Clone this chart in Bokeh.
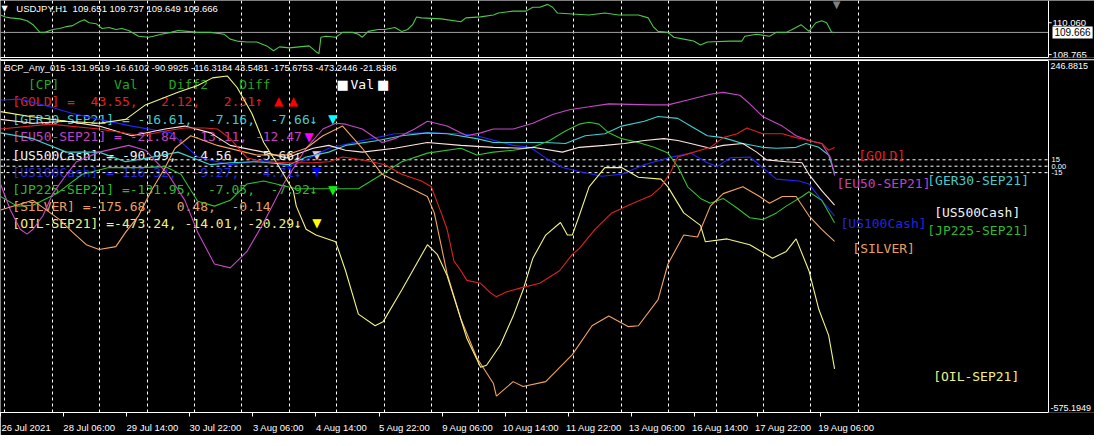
from bokeh.plotting import figure
from bokeh.models import Range1d, LinearAxis, FixedTicker, Grid, Span, Label
from bokeh.layouts import column
from bokeh.embed import file_html
from bokeh.resources import INLINE

# ---------------- data ----------------
# x values are H1 bar indices counted from the first visible bar
usdjpy_bar = [0, 2.5, 5, 10, 13.5, 16.5, 20, 22.5, 26.5, 30, 33.5, 36.5, 40, 42.5, 45, 48.5, 51.5, 55, 58.5, 61.5,
              65, 70, 75, 77.5, 81.5, 86.5, 90, 95, 100, 106.5, 113.5, 116.5, 120, 125, 130, 135, 138.5, 141.5, 146.5,
              151.5, 156.5, 160, 161.5, 162.5, 165, 170, 173.5, 178.5, 181.5, 183.5, 186.5, 191.5, 195, 200, 203.5,
              206.5, 209, 211, 213.5, 223.5, 233.5, 236, 243.5, 250, 252.5, 260, 266.5, 270, 273.5, 277.5, 280, 282.5,
              290, 298.5, 306.5, 313.5, 323.5, 328.5, 331, 333.5, 338.5, 341.5, 346.5, 351.5, 355, 358.5, 370, 376,
              377.5, 383.5, 390, 393.5, 398.5, 401.5, 406, 410, 413.5, 416.5, 419, 421.5, 422.5]
usdjpy_px = [110.374, 110.296, 110.256, 110.217, 110.139, 109.981, 109.668, 109.668, 109.785, 109.825, 109.903,
             109.942, 110.099, 110.178, 110.060, 110.021, 109.825, 109.864, 109.785, 109.825, 109.746, 109.511,
             109.471, 109.511, 109.589, 109.668, 109.746, 109.707, 109.668, 109.668, 109.589, 109.393, 109.314,
             109.275, 109.275, 109.118, 108.922, 109.079, 109.040, 109.079, 109.118, 108.883, 108.804, 109.471,
             109.511, 109.471, 109.668, 109.668, 109.589, 109.471, 109.707, 109.785, 109.785, 109.864, 109.707,
             109.785, 109.981, 110.296, 110.256, 110.217, 110.099, 110.256, 110.296, 110.374, 110.453, 110.531,
             110.531, 110.688, 110.688, 110.806, 110.688, 110.453, 110.413, 110.374, 110.453, 110.374, 110.374,
             110.256, 109.903, 109.707, 109.668, 109.471, 109.393, 109.314, 109.157, 109.275, 109.314, 109.314,
             109.511, 109.589, 109.511, 109.668, 109.668, 109.785, 109.981, 109.707, 110.060, 110.139, 110.060,
             109.668, 109.666]

gold_bar = [0, 25, 50, 71.5, 83.5, 93.5, 103.5, 110, 116.5, 125, 133.5, 146.5, 158.5, 166.5, 173.5, 183.5, 195,
            203.5, 213.5, 218.5, 223.5, 226.5, 230, 233.5, 236.5, 243.5, 248.5, 251.5, 256.5, 263.5, 273.5, 283.5,
            290, 293.5, 301.5, 310, 318.5, 330, 335, 340, 343.5, 350, 360, 366.5, 373.5, 378.5, 386.5, 396.5, 403.5,
            410, 416.5, 420, 423]
gold_val = [86.9, 98.2, 86.9, 71.2, 82.4, 89.2, 89.2, 86.9, 64.4, 19.4, 10.4, 8.1, 8.1, 10.4, 21.6, 14.9, 3.6,
            -18.9, -34.7, -48.2, -109.0, -147.3, -221.6, -244.1, -266.6, -273.4, -295.9, -304.9, -293.7, -284.7,
            -273.4, -244.1, -205.8, -192.3, -147.3, -109.0, -91.0, -68.5, -48.2, -12.2, 21.6, 30.6, 44.1, 66.7, 75.7,
            89.2, 75.7, 75.7, 66.7, 59.9, 53.1, 37.4, 43.5481]

ger30_bar = [0, 16.5, 33.5, 50, 63.5, 75, 90, 106.5, 116.5, 130, 146.5, 155, 166.5, 175, 191.5, 203.5, 216.5, 226.5,
             241.5, 250, 265, 276.5, 286.5, 296.5, 306.5, 315, 326.5, 333.5, 343.5, 350, 358.5, 366.5, 376.5, 386.5,
             393.5, 403.5, 408.5, 415, 420, 423]
ger30_val = [77.9, 64.4, 32.9, 32.9, 10.4, 19.4, 32.9, 3.6, 8.1, 10.4, 3.6, 21.6, 32.9, 48.6, 59.9, 71.2, 77.9, 75.7,
             64.4, 55.4, 55.4, 55.4, 53.1, 71.2, 75.7, 93.7, 104.9, 116.2, 111.7, 93.7, 71.2, 66.7, 53.1, 44.1, 41.9,
             44.1, 53.1, 44.1, 26.1, -16.6102]

eu50_bar = [0, 5, 10, 13.5, 16.5, 21.5, 26.5, 33.5, 38.5, 50, 65, 73.5, 85, 93.5, 100, 108.5, 116.5, 125, 133.5,
            143.5, 155, 163.5, 170, 175, 183.5, 193.5, 200, 210, 216.5, 226.5, 236.5, 243.5, 250, 260, 270, 280,
            288.5, 298.5, 308.5, 330, 338.5, 348.5, 360, 366.5, 375, 380, 386.5, 396.5, 403.5, 410, 416.5, 421, 423]
eu50_val = [-41.4, -102.2, -147.3, -158.5, -147.3, -115.8, -64.0, -18.9, 10.4, 32.9, 48.6, 37.4, -18.9, -79.7,
            -154.0, -228.4, -237.4, -199.1, -131.5, -41.4, 41.9, 86.9, 100.4, 98.2, 86.9, 55.4, 64.4, 86.9, 104.9,
            93.7, 71.2, 77.9, 86.9, 86.9, 100.4, 120.7, 132.0, 138.7, 145.5, 143.2, 143.2, 154.5, 168.0, 172.5, 165.7,
            145.5, 116.2, 93.7, 71.2, 59.9, 53.1, 19.4, -21.8386]

us500_bar = [0, 16.5, 33.5, 50, 66.5, 83.5, 93.5, 106.5, 116.5, 133.5, 145, 158.5, 166.5, 175, 183.5, 200, 216.5,
             233.5, 250, 265, 270, 285, 293.5, 306.5, 316.5, 326.5, 336.5, 343.5, 350, 360, 366.5, 376.5, 383.5,
             388.5, 398.5, 406.5, 410, 416.5, 423]
us500_val = [109.4, 100.4, 104.9, 93.7, 71.2, 86.9, 93.7, 77.9, 48.6, 32.9, 19.4, 41.9, 48.6, 37.4, 32.9, 41.9,
             55.4, 48.6, 44.1, 41.9, 44.1, 32.9, 44.1, 48.6, 53.1, 59.9, 64.4, 59.9, 53.1, 41.9, 48.6, 53.1, 32.9,
             14.9, 10.4, 8.1, -18.9, -57.2, -90.9925]

us100_bar = [0, 10, 25, 36.5, 50, 66.5, 86.5, 93.5, 100, 116.5, 133.5, 146.5, 155, 166.5, 183.5, 200, 216.5, 233.5,
             241.5, 260, 268.5, 276.5, 285, 293.5, 305, 315, 326.5, 338.5, 350, 358.5, 363.5, 370, 380, 386.5, 393.5,
             405, 410, 416.5, 423]
us100_val = [154.5, 156.7, 138.7, 123.0, 109.4, 93.7, 77.9, 48.6, 21.6, 3.6, 14.9, -0.9, 14.9, 41.9, 59.9, 75.7,
             77.9, 75.7, 71.2, 48.6, 44.1, 19.4, -3.2, -12.2, -23.4, -18.9, 3.6, 19.4, 30.6, 8.1, -0.9, 19.4, 21.6,
             -3.2, -30.2, -34.7, -41.4, -79.7, -116.3184]

jp225_bar = [0, 8.5, 16.5, 28.5, 41.5, 55, 71.5, 83.5, 91.5, 100, 108.5, 116.5, 125, 133.5, 150, 166.5, 181.5,
             193.5, 203.5, 216.5, 233.5, 241.5, 250, 260, 270, 278.5, 286.5, 293.5, 298.5, 303.5, 308.5, 315, 323.5,
             331.5, 338.5, 343.5, 348.5, 355, 360, 366.5, 373.5, 380, 386.5, 393.5, 398.5, 406.5, 410, 416.5, 423]
jp225_val = [-70.7, -93.2, -91.0, -64.0, -18.9, -3.2, -3.2, -0.9, -18.9, -82.0, -93.2, -79.7, -41.4, -34.7, -52.7,
             -52.7, -52.7, -18.9, 10.4, 30.6, 41.9, 26.1, 32.9, 37.4, 44.1, 59.9, 82.4, 98.2, 102.7, 98.2, 77.9, 64.4,
             55.4, 44.1, 30.6, -0.9, -48.2, -75.2, -86.5, -75.2, -97.7, -120.3, -124.8, -109.0, -93.2, -70.7, -59.5,
             -79.7, -131.9519]

silver_bar = [0, 16.5, 30, 36.5, 43.5, 50, 58.5, 63.5, 70, 76.5, 83.5, 88.5, 96.5, 110, 130, 145, 155, 163.5,
              173.5, 183.5, 193.5, 206.5, 216.5, 220, 226.5, 233.5, 241.5, 250, 251.5, 260, 265, 276.5, 290, 300,
              308.5, 318.5, 323.5, 333.5, 338.5, 346.5, 353.5, 360, 366.5, 376.5, 385, 390, 396.5, 403.5, 410, 416.5,
              423]
silver_val = [-102.2, -79.7, -124.8, -154.0, -183.3, -194.6, -187.8, -154.0, -115.8, -57.2, -3.2, 41.9, 71.2, 48.6,
              26.1, 26.1, 41.9, 71.2, 93.7, 41.9, -18.9, -48.2, -70.7, -109.0, -250.9, -356.7, -446.8, -507.6,
              -536.9, -503.1, -514.4, -503.1, -440.0, -372.5, -350.0, -374.7, -372.5, -311.7, -228.4, -160.8, -165.3,
              -93.2, -64.0, -48.2, -70.7, -86.5, -70.7, -70.7, -115.8, -147.3, -175.6753]

oil_bar = [0, 15, 33.5, 50, 63.5, 73.5, 90, 100, 107.5, 115, 120, 127.5, 133.5, 141.5, 148.5, 150, 155, 160, 170,
           175, 181.5, 190, 194, 203.5, 216.5, 221.5, 226.5, 236.5, 243.5, 246.5, 253.5, 260, 265, 270, 276.5, 284,
           287.5, 290, 293.5, 298.5, 306.5, 315, 323.5, 335, 338.5, 346.5, 355, 357.5, 368.5, 380, 391.5, 398.5,
           403.5, 410, 415, 420, 423]
oil_val = [127.5, 116.2, 104.9, 100.4, 109.4, 143.2, 172.5, 188.3, 206.3, 210.8, 183.8, 123.0, 55.4, -3.2, -57.2,
           -93.2, -147.3, -160.8, -176.6, -244.1, -345.5, -372.5, -363.5, -289.2, -183.3, -205.8, -255.4, -401.8,
           -469.3, -464.8, -417.5, -350.0, -289.2, -214.8, -160.8, -131.5, -160.8, -160.8, -115.8, -48.2, -3.2, -3.2,
           -25.7, -30.2, -48.2, -109.0, -138.3, -176.6, -169.8, -183.3, -214.8, -199.1, -169.8, -244.1, -334.2,
           -395.0, -473.2446]

time_tick_bars = [0, 32, 64, 96, 128, 160, 192, 224, 256, 288, 320, 352, 384, 416]
time_tick_labels = ["26 Jul 2021", "28 Jul 06:00", "29 Jul 14:00", "30 Jul 22:00", "3 Aug 06:00", "4 Aug 14:00",
                    "5 Aug 22:00", "9 Aug 06:00", "10 Aug 14:00", "11 Aug 22:00", "13 Aug 06:00", "16 Aug 14:00",
                    "17 Aug 22:00", "19 Aug 06:00"]

ind_min, ind_max = -575.1949, 246.8815
levels = [15, 0, -15]
level_labels = ["15", "0.00", "-15"]
price_ticks = [110.060, 108.765]
price_last = 109.666
price_lo, price_hi = 108.647, 110.963

names = ["GOLD", "GER30-SEP21", "EU50-SEP21", "US500Cash", "US100Cash", "JP225-SEP21", "SILVER", "OIL-SEP21"]
cp_val = [43.55, -16.61, -21.84, -90.99, -116.32, -131.95, -175.68, -473.24]
cp_diff2 = [2.12, -7.16, -13.11, -4.56, -9.27, -7.05, 0.48, -14.01]
cp_diff = [2.31, -7.66, -12.47, -5.66, -4.71, -7.92, -0.14, -20.29]
cp_arrow = ["↑", "↓", "", "↓", "↓", "↓", "", "↓"]
header_vals = [-131.9519, -16.6102, -90.9925, -116.3184, 43.5481, -175.6753, -473.2446, -21.8386]

# ---------------- styles / layout ----------------
TOTAL_W = 1094
CHART_W = 1048                      # px of the chart area left of the price scale
BAR_END = 531.5                     # bar position of the chart's right border
X_END = BAR_END * TOTAL_W / CHART_W
H1, H2 = 57, 352
SX = CHART_W / 1063.0
SY1 = H1 / 59.0
SY2 = H2 / 365.0
MONO = "DejaVu Sans Mono"
SANS = "Liberation Sans"
NB = "\u00a0"

def sx(v): return v * SX
def sy1(v): return (59 - v) * SY1
def sy2(v): return (427 - v) * SY2

line_cols = {"GOLD": "#e02020", "GER30-SEP21": "#40d0d0", "EU50-SEP21": "#c848c8", "US500Cash": "#ffe4e1",
             "US100Cash": "#2424ff", "JP225-SEP21": "#30c030", "SILVER": "#f4a460", "OIL-SEP21": "#f5f580"}
text_cols = {"GOLD": "#e02020", "GER30-SEP21": "#48c8c8", "EU50-SEP21": "#c040c0", "US500Cash": "#f0f0f0",
             "US100Cash": "#2424e0", "JP225-SEP21": "#30b830", "SILVER": "#e8a060", "OIL-SEP21": "#f0f080"}
tri_cols = {"GOLD": "#ff0000", "GER30-SEP21": "#00ffff", "EU50-SEP21": "#ff00ff", "US500Cash": "#ffc0cb",
            "US100Cash": "#0000ff", "JP225-SEP21": "#00ff00", "SILVER": None, "OIL-SEP21": "#ffff00"}
tri_x = {"GOLD": [282, 297], "GER30-SEP21": [337], "EU50-SEP21": [313], "US500Cash": [321],
         "US100Cash": [321], "JP225-SEP21": [337], "SILVER": [], "OIL-SEP21": [321]}
row_y = [104, 123, 141, 160, 178, 196, 213, 231]
eq_sep = {"GOLD": " =  ", "GER30-SEP21": " = ", "EU50-SEP21": " = ", "US500Cash": " = ",
          "US100Cash": " =", "JP225-SEP21": " =", "SILVER": " =", "OIL-SEP21": " ="}
end_label_dx = {"GOLD": 24, "GER30-SEP21": 94, "EU50-SEP21": 2, "US500Cash": 101, "US100Cash": 6,
                "JP225-SEP21": 94, "SILVER": 18, "OIL-SEP21": 100}

x_range = Range1d(0, X_END)
grid_ticks = [2.15 + 24.05 * k for k in range(19)]

def base_fig(h, yr, top, bottom):
    p = figure(frame_width=TOTAL_W, frame_height=h, x_range=x_range, y_range=yr,
               x_axis_type=None, y_axis_type=None, toolbar_location=None, output_backend="svg",
               min_border_left=0, min_border_right=0, min_border_top=top, min_border_bottom=bottom,
               background_fill_color="black", border_fill_color="black", outline_line_color=None)
    p.add_layout(Grid(dimension=0, ticker=FixedTicker(ticks=grid_ticks), grid_line_color="white",
                      grid_line_dash="3 3", grid_line_width=1))
    p.add_layout(Span(location=BAR_END, dimension="height", line_color="white", line_width=1))
    return p

def empty_axis():
    return LinearAxis(ticker=FixedTicker(ticks=[]), axis_line_color="white", major_tick_line_color=None,
                      minor_tick_line_color=None, major_label_text_font_size="0px", major_tick_out=0,
                      major_tick_in=0, major_label_standoff=0, bounds=(0, BAR_END))

def lab(p, x, y, text, color, font=SANS, size="9.5px", align="left", baseline="middle", level="underlay"):
    p.add_layout(Label(x=x, y=y, x_units="screen", y_units="screen", text=text.replace(" ", NB),
                       text_color=color, text_font=font, text_font_size=size, text_align=align,
                       text_baseline=baseline, level=level))

def scale_label(p, y, text, color="white", size="9.5px", baseline="middle", dy=0, bg=None, dx=3, pad=0):
    p.add_layout(Label(x=BAR_END, y=y, x_offset=dx, y_offset=dy, text=text, text_color=color,
                       text_font=SANS, text_font_size=size, text_baseline=baseline,
                       background_fill_color=bg, padding=pad))

# ---------------- top panel: USDJPY H1 ----------------
p1 = base_fig(H1, Range1d(price_lo, price_hi), 0, 2)
p1.line([0, BAR_END], [price_last, price_last], line_color="#a0a0a0", line_width=1)
p1.line(usdjpy_bar, usdjpy_px, line_color="#4cc84c", line_width=1.1)
p1.segment(x0=[BAR_END] * len(price_ticks), x1=[BAR_END + 1.6] * len(price_ticks), y0=price_ticks,
           y1=price_ticks, line_color="white", line_width=1)
for t in price_ticks:
    scale_label(p1, t, "%.3f" % t, dx=4)
scale_label(p1, price_last, "%.3f" % price_last, color="black", bg="white", dx=4, size="10px", pad=2)
p1.add_layout(empty_axis(), "below")
lab(p1, sx(1), sy1(8), "▼", "white", font="DejaVu Sans", size="8px")
lab(p1, sx(16), sy1(8), "USDJPY,H1  109.651 109.737 109.649 109.666", "white")
lab(p1, sx(848), H1 + 2, "▼", "#808080", font="DejaVu Sans", size="10px", align="center", baseline="top",
    level="annotation")

# ---------------- bottom panel: indicator ----------------
p2 = base_fig(H2, Range1d(ind_min, ind_max), 1, 18)
p2.add_layout(empty_axis(), "above")
for lv in levels:
    p2.line([0, BAR_END], [lv, lv], line_color="white", line_width=1, line_dash="3 3")

# text table (drawn under the lines)
header = "  [CP]" + " " * 7 + "Val" + " " * 4 + "Diff2" + " " * 4 + "Diff"
lab(p2, sx(12), sy2(87), header, "#22a822", font=MONO, size="13px")
lab(p2, sx(347), sy2(87), "■", "white", font="DejaVu Sans", size="13px", align="center")
lab(p2, sx(355), sy2(87), "Val", "white", font=MONO, size="13px")
lab(p2, sx(388), sy2(87), "■", "white", font="DejaVu Sans", size="13px", align="center")
for i, nm in enumerate(names):
    d2 = "%.2f" % cp_diff2[i]
    d1 = "%.2f" % cp_diff[i]
    txt = "[%s]%s%.2f,%s%s,%s%s%s" % (nm, eq_sep[nm], cp_val[i], " " * (7 - len(d2)), d2,
                                      " " * (7 - len(d1)), d1, cp_arrow[i])
    lab(p2, sx(12), sy2(row_y[i]), txt, text_cols[nm], font=MONO, size="13px")
    for tx in tri_x[nm]:
        lab(p2, sx(tx), sy2(row_y[i]), "▲" if nm == "GOLD" else "▼", tri_cols[nm],
            font="DejaVu Sans", size="12px", align="center")

hdr = "BCP_Any_015 " + " ".join("%.4f" % v for v in header_vals)
lab(p2, sx(4), sy2(70), hdr, "white", size="9.3px")

series = [("US100Cash", us100_bar, us100_val), ("GER30-SEP21", ger30_bar, ger30_val),
          ("JP225-SEP21", jp225_bar, jp225_val), ("US500Cash", us500_bar, us500_val),
          ("EU50-SEP21", eu50_bar, eu50_val), ("SILVER", silver_bar, silver_val),
          ("OIL-SEP21", oil_bar, oil_val), ("GOLD", gold_bar, gold_val)]
for nm, xs, ys in series:
    p2.line(xs, ys, line_color=line_cols[nm], line_width=1.1)
    p2.add_layout(Label(x=xs[-1], y=ys[-1], x_offset=sx(end_label_dx[nm]), text="[%s]" % nm,
                        text_color=text_cols[nm], text_font=MONO, text_font_size="13px",
                        text_baseline="top"))

# price scale of the indicator window
scale_label(p2, ind_max, "%.4f" % ind_max, size="9px", baseline="top", dy=-2, dx=2)
scale_label(p2, ind_min, "%.4f" % ind_min, size="9px", baseline="bottom", dy=2, dx=2)
for lv, lt in zip(levels, level_labels):
    scale_label(p2, lv, lt, size="7.5px", dx=3)

centers = [t + 13 for t in time_tick_bars]
tax = LinearAxis(ticker=FixedTicker(ticks=centers, minor_ticks=time_tick_bars),
                 major_label_overrides={c: l for c, l in zip(centers, time_tick_labels)},
                 axis_line_color="white", major_tick_line_color=None, major_tick_out=0, major_tick_in=0,
                 minor_tick_line_color="white", minor_tick_out=4, minor_tick_in=0,
                 major_label_text_color="white", major_label_text_font=SANS,
                 major_label_text_font_size="9.5px", major_label_standoff=5, bounds=(0, BAR_END))
p2.add_layout(tax, "below")

layout = column(p1, p2, spacing=0)
open("out.html", "w").write(file_html(layout, INLINE))
